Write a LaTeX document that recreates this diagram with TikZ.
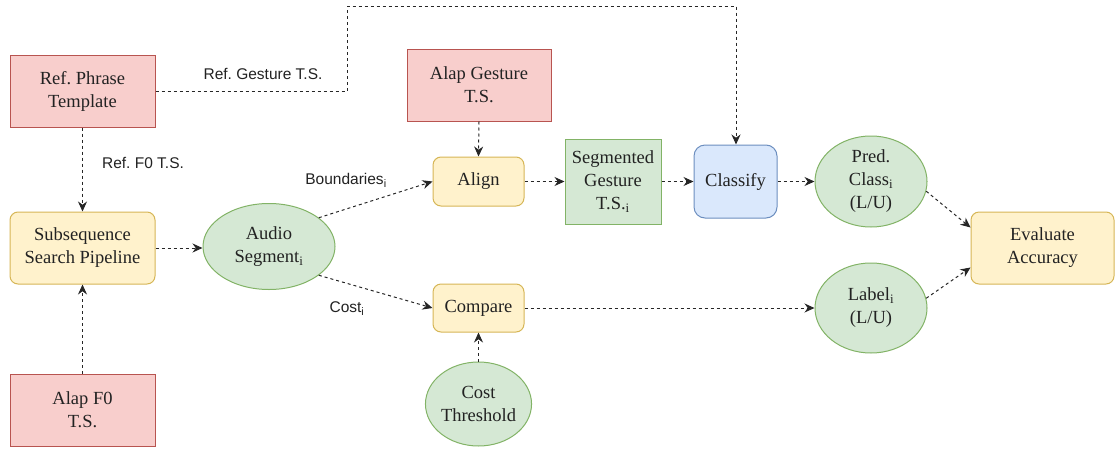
\documentclass[tikz,border=0pt]{standalone}
\usepackage{fontspec}
\setmainfont{Liberation Serif}
\setsansfont{Liberation Sans}
\frenchspacing
\usetikzlibrary{arrows.meta,shapes.geometric,calc}
\definecolor{redF}{HTML}{F8CECC}\definecolor{redD}{HTML}{B85450}
\definecolor{yelF}{HTML}{FFF2CC}\definecolor{yelD}{HTML}{D6B656}
\definecolor{grnF}{HTML}{D5E8D4}\definecolor{grnD}{HTML}{82B366}
\definecolor{bluF}{HTML}{DAE8FC}\definecolor{bluD}{HTML}{6C8EBF}
\definecolor{txt}{HTML}{222222}
\tikzset{
  base/.style={inner sep=0pt, align=center, text=txt, font=\fontsize{18.5}{23}\selectfont, line width=1pt},
  redbox/.style={base, draw=redD, fill=redF, minimum width=145pt, minimum height=72pt},
  yelbox/.style={base, draw=yelD, fill=yelF, rounded corners=8pt},
  grnell/.style={base, ellipse, draw=grnD, fill=grnF},
  conn/.style={draw=black!85, line width=1pt, dash pattern=on 3pt off 3pt, -{Stealth[length=10pt,width=9pt]}},
  lbl/.style={font=\fontsize{15.5}{18}\sffamily, text=txt, inner sep=0pt}
}
\begin{document}
\begin{tikzpicture}[x=1pt,y=-1pt]
\useasboundingbox (0,0) rectangle (1115,450);
% nodes
\node[redbox] (ref) at (82.5,91) {Ref. Phrase\\Template};
\node[redbox] (alapf0) at (82.5,410) {Alap F0\\T.S.};
\node[yelbox, minimum width=145pt, minimum height=72pt] (sub) at (82.5,248) {Subsequence\\Search Pipeline};
\node[grnell, minimum width=132pt, minimum height=86pt] (aud) at (269,246.5) {Audio\\Segment\textsubscript{i}};
\node[redbox, minimum width=144pt] (alapg) at (479,85) {Alap Gesture\\T.S.};
\node[yelbox, minimum width=91pt, minimum height=49pt] (align) at (478.5,181.5) {Align};
\node[yelbox, minimum width=91pt, minimum height=48pt] (cmp) at (478.5,308) {Compare};
\node[grnell, minimum width=101pt, minimum height=84pt] (thr) at (478.5,404) {Cost\\Threshold};
\node[base, draw=grnD, fill=grnF, minimum width=96pt, minimum height=85pt] (seg) at (613,181.5) {Segmented\\Gesture\\T.S.\textsubscript{i}};
\node[base, draw=bluD, fill=bluF, rounded corners=11pt, minimum width=83pt, minimum height=73pt] (cls) at (735.5,181.5) {Classify};
\node[grnell, minimum width=112pt, minimum height=91pt] (pred) at (871,181.5) {Pred.\\Class\textsubscript{i}\\(L/U)};
\node[grnell, minimum width=112pt, minimum height=90pt] (lab) at (871,308) {Label\textsubscript{i}\\(L/U)};
\node[yelbox, minimum width=143pt, minimum height=72pt] (eval) at (1042.5,248) {Evaluate\\Accuracy};
% coordinates for routed connector
\coordinate (c1) at (347,91);
\coordinate (c2) at (347,6);
\coordinate (c3) at (736,6);
% connectors
\draw[conn] (ref.south) -- (sub.north);
\draw[conn] (ref.east) -- (c1) -- (c2) -- (c3) -- (cls.north -| c3);
\draw[conn] (alapf0.north) -- (sub.south);
\draw[conn] (sub.east) -- (aud.west |- sub.east);
\draw[conn] (aud.30) -- (align.west);
\draw[conn] (aud.-30) -- (cmp.west);
\draw[conn] (alapg.south) -- (align.north);
\draw[conn] (align.east) -- (seg.west);
\draw[conn] (seg.east) -- (cls.west);
\draw[conn] (cls.east) -- (pred.west);
\draw[conn] (cmp.east) -- (lab.west);
\draw[conn] (thr.north) -- (cmp.south);
\draw[conn] (pred.-10) -- ($(eval.north west)+(0,16)$);
\draw[conn] (lab.10) -- ($(eval.south west)+(0,-17)$);
% labels
\node[lbl] (l1) at (143,163) {Ref. F0 T.S.};
\node[lbl] (l2) at (263,74) {Ref. Gesture T.S.};
\node[lbl] (l3) at (346,180) {Boundaries\textsubscript{i}};
\node[lbl] (l4) at (347,309) {Cost\textsubscript{i}};
\end{tikzpicture}
\end{document}
